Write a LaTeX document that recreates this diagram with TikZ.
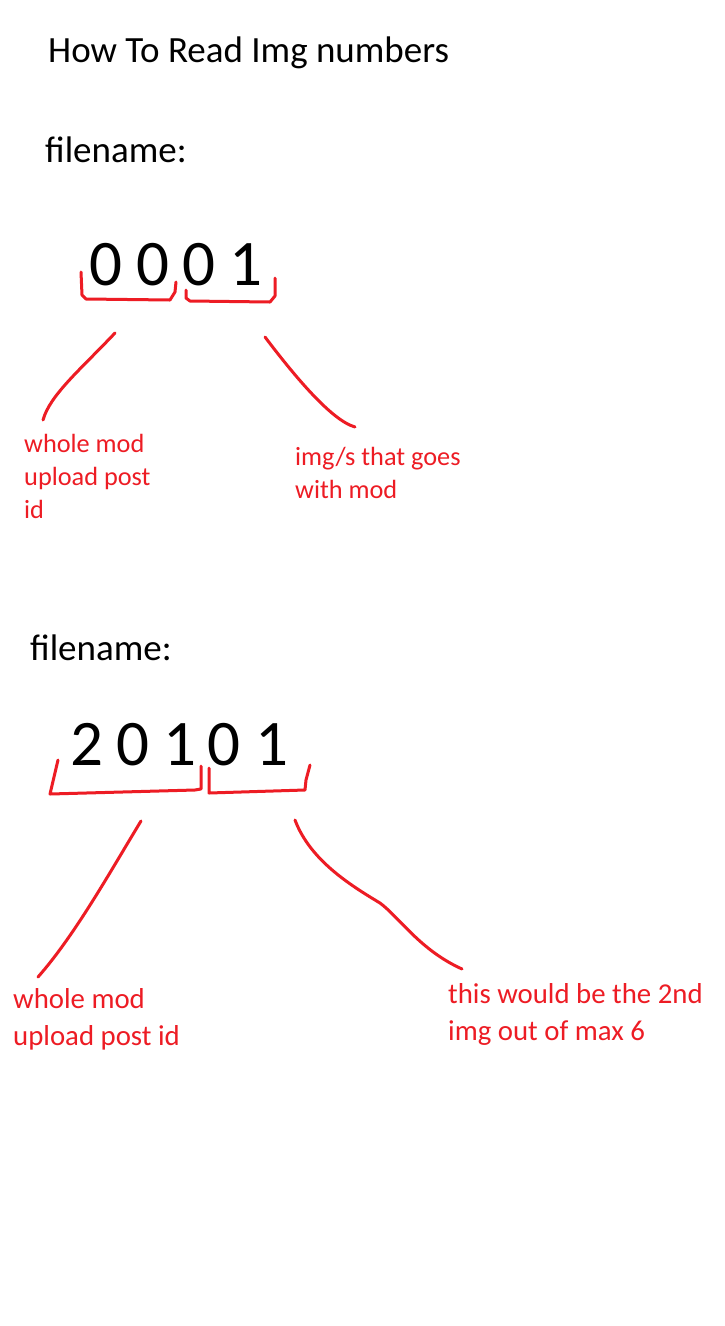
\documentclass[tikz,border=0pt]{standalone}
\usepackage{fontspec}
\setmainfont{Carlito}
\definecolor{paintred}{RGB}{237,28,36}
\tikzset{
  title/.style={anchor=base west, inner sep=0pt, font=\fontsize{37}{44}\selectfont},
  digit/.style={anchor=base, inner sep=0pt, font=\fontsize{65}{78}\selectfont},
  notesmall/.style={anchor=base west, inner sep=0pt, align=left, text=paintred, font=\fontsize{26.3}{33}\selectfont},
  notelarge/.style={anchor=base west, inner sep=0pt, align=left, text=paintred, font=\fontsize{28.8}{37}\selectfont},
  stroke/.style={draw=paintred, line width=3pt, line cap=round, line join=round}
}
\begin{document}
\begin{tikzpicture}[x=1pt, y=-1pt]
\useasboundingbox[fill=white] (0,0) rectangle (725,1326);

% title and headings
\node[title] (ttl) at (48,62) {How To Read Img numbers};
\node[title] (fn1) at (45,162) {filename:};
\node[title] (fn2) at (30,660) {filename:};

% first number
\node[digit] (a1) at (106,285) {0};
\node[digit] (a2) at (153,285) {0};
\node[digit] (a3) at (199,285) {0};
\node[digit] (a4) at (246,285) {1};

\draw[stroke] (81,272) -- (82,295) -- (86,299) -- (170,300) -- (175,292) -- (176,282);
\draw[stroke] (186,290) -- (186,298) -- (190,301) -- (270,302) -- (275,296) -- (275,278);

% multi-line labels: anchor is the baseline of the last line
\coordinate (la) at (115,333);
\coordinate (ra) at (265,337);
\node[notesmall] (lt1) at (24,518) {whole mod\\upload post\\id};
\node[notesmall] (rt1) at (295,498) {img/s that goes\\with mod};
\coordinate (lae) at (43,420);
\coordinate (rae) at (355,427);
\draw[stroke] (la) .. controls (80,370) and (50,395) .. (lae);
\draw[stroke] (ra) .. controls (290,370) and (330,420) .. (rae);

% second number
\node[digit] (b1) at (86.5,765) {2};
\node[digit] (b2) at (132.5,765) {0};
\node[digit] (b3) at (180,765) {1};
\node[digit] (b4) at (224,765) {0};
\node[digit] (b5) at (271.5,765) {1};

\draw[stroke] (58,760) -- (50,794) -- (195,790) -- (201,789) -- (201,766);
\draw[stroke] (209,768) -- (209,793) -- (305,790) -- (306,780) -- (310,765);

\coordinate (lb) at (141,821);
\coordinate (rb) at (295,820);
\node[notelarge] (lt2) at (13,1045) {whole mod\\upload post id};
\node[notelarge] (rt2) at (448,1040) {this would be the 2nd\\img out of max 6};
\coordinate (lbe) at (38,977);
\coordinate (rbe) at (462,969);
\draw[stroke] (lb) .. controls (110,872) and (75,935) .. (lbe);
\draw[stroke] (rb) .. controls (310,860) and (350,885) .. (380,903) .. controls (400,918) and (420,950) .. (rbe);
\end{tikzpicture}
\end{document}
